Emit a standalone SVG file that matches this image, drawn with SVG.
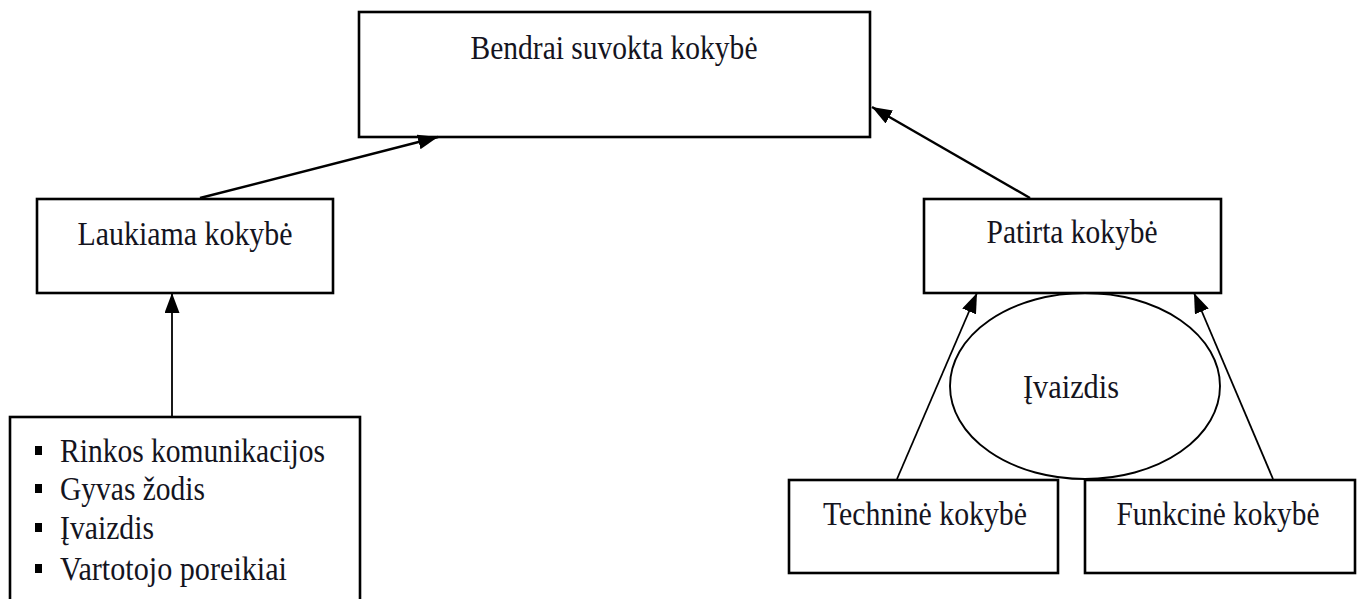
<svg xmlns="http://www.w3.org/2000/svg" width="1361" height="599" viewBox="0 0 1361 599">
<style>
.box{fill:#fff;stroke:#000;stroke-width:2.6}
.lbl{font-family:"Liberation Serif","Times New Roman",serif;font-size:34px;fill:#14141e;text-anchor:middle}
.lst{font-family:"Liberation Serif","Times New Roman",serif;font-size:34px;fill:#14141e}
.con{fill:none;stroke:#000;stroke-width:2.4}
.thin{fill:none;stroke:#000;stroke-width:1.8}
</style>
<defs>
<marker id="ah" markerUnits="userSpaceOnUse" markerWidth="20" markerHeight="15" refX="20" refY="7.5" orient="auto">
<path d="M0,0 L20,7.5 L0,15 z" fill="#000"/>
</marker>
</defs>
<rect width="1361" height="599" fill="#fff"/>
<g id="n-bendrai">
<rect class="box" x="359" y="12" width="511" height="125"/>
<text class="lbl" x="614" y="59" textLength="287" lengthAdjust="spacingAndGlyphs">Bendrai suvokta kokybė</text>
</g>
<g id="n-laukiama">
<rect class="box" x="37" y="199" width="296" height="94"/>
<text class="lbl" x="185" y="245" textLength="215" lengthAdjust="spacingAndGlyphs">Laukiama kokybė</text>
</g>
<g id="n-patirta">
<rect class="box" x="924" y="199" width="297" height="94"/>
<text class="lbl" x="1072" y="243" textLength="171" lengthAdjust="spacingAndGlyphs">Patirta kokybė</text>
</g>
<g id="n-ivaizdis">
<ellipse cx="1085" cy="386" rx="135" ry="93" fill="none" stroke="#000" stroke-width="1.9"/>
<text class="lbl" x="1071" y="398" textLength="96" lengthAdjust="spacingAndGlyphs">Įvaizdis</text>
</g>
<g id="n-technine">
<rect class="box" x="789" y="480" width="269" height="93"/>
<text class="lbl" x="925" y="525" textLength="204" lengthAdjust="spacingAndGlyphs">Techninė kokybė</text>
</g>
<g id="n-funkcine">
<rect class="box" x="1085" y="480" width="270" height="93"/>
<text class="lbl" x="1218" y="525" textLength="203" lengthAdjust="spacingAndGlyphs">Funkcinė kokybė</text>
</g>
<g id="n-sources">
<rect class="box" x="10" y="417" width="350" height="200"/>
<rect x="35" y="446" width="7" height="9" fill="#000"/>
<rect x="35" y="484" width="7" height="9" fill="#000"/>
<rect x="35" y="523" width="7" height="9" fill="#000"/>
<rect x="35" y="564" width="7" height="9" fill="#000"/>
<text class="lst" x="60" y="462" textLength="265" lengthAdjust="spacingAndGlyphs">Rinkos komunikacijos</text>
<text class="lst" x="60" y="500" textLength="145" lengthAdjust="spacingAndGlyphs">Gyvas žodis</text>
<text class="lst" x="60" y="539" textLength="94" lengthAdjust="spacingAndGlyphs">Įvaizdis</text>
<text class="lst" x="60" y="580" textLength="227" lengthAdjust="spacingAndGlyphs">Vartotojo poreikiai</text>
</g>
<g id="connectors">
<line class="con" x1="200" y1="198" x2="438" y2="137" marker-end="url(#ah)"/>
<line class="con" x1="1030" y1="198" x2="872" y2="107" marker-end="url(#ah)"/>
<line class="thin" x1="172" y1="416" x2="172" y2="293" marker-end="url(#ah)"/>
<line class="thin" x1="897" y1="479" x2="977" y2="293" marker-end="url(#ah)"/>
<line class="thin" x1="1273" y1="479" x2="1194" y2="293" marker-end="url(#ah)"/>
</g>
</svg>
